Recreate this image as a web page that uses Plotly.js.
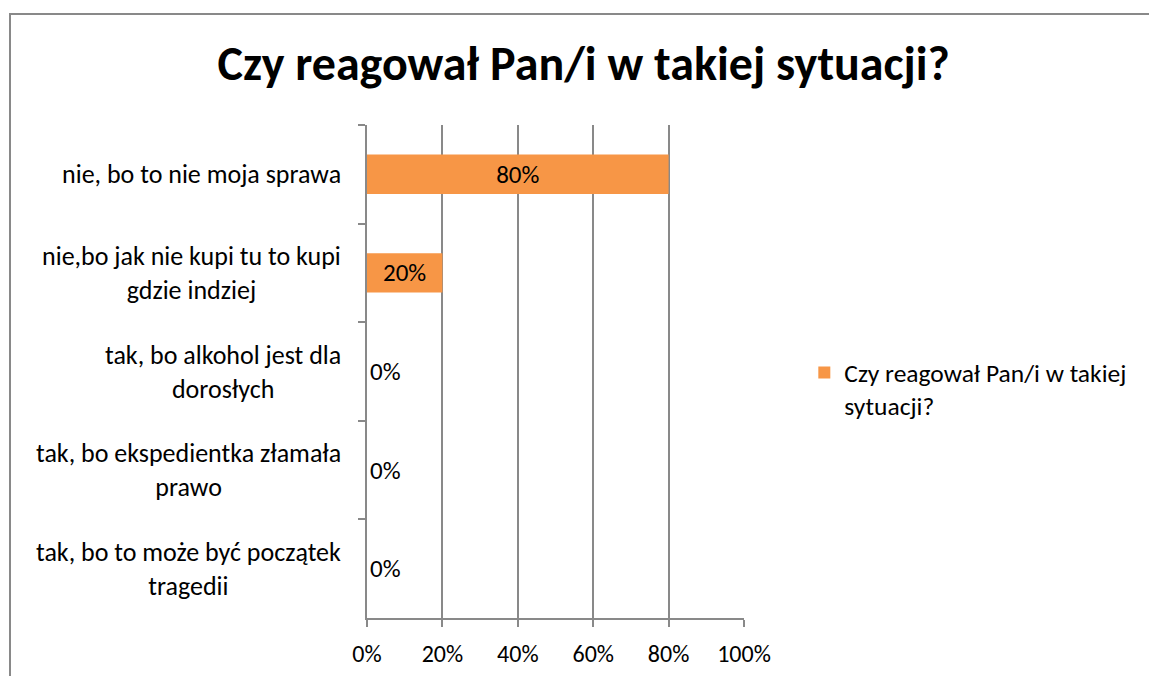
<!DOCTYPE html>
<html>
<head>
<meta charset="utf-8">
<script src="https://cdn.plot.ly/plotly-3.0.1.min.js"></script>
<style>
  html, body { margin: 0; padding: 0; background: #fff; }
  #wrap { position: relative; width: 1149px; height: 676px; overflow: hidden; }
  #chart { width: 1149px; height: 676px; }
  #frame { position: absolute; left: 9px; top: 13px; width: 1160px; height: 700px;
           border: 2px solid #898989; pointer-events: none; box-sizing: border-box; }
</style>
</head>
<body>
<div id="wrap">
  <div id="chart"></div>
  <div id="frame"></div>
</div>
<script>
const chartTitle = "Czy reagował Pan/i w takiej sytuacji?";
const seriesName = "Czy reagował Pan/i w takiej<br>sytuacji?";
const categories = [
  "nie, bo to nie moja sprawa",
  "nie,bo jak nie kupi tu to kupi<br>gdzie indziej",
  "tak, bo alkohol jest dla<br>dorosłych",
  "tak, bo ekspedientka złamała<br>prawo",
  "tak, bo to może być początek<br>tragedii"
];
const values = [0.80, 0.20, 0.00, 0.00, 0.00];
const xTickVals = [0, 0.2, 0.4, 0.6, 0.8, 1.0];
const xTickText = ["0%", "20%", "40%", "60%", "80%", "100%"];

const FONT = "Carlito, Calibri, Lato, sans-serif";
const ORANGE = "#F79646";
const GRID = "#898989";

const labels = values.map(v => Math.round(v * 100) + "%");
const positions = values.map(v => v > 0 ? "inside" : "outside");

const trace = {
  type: "bar",
  orientation: "h",
  x: values,
  y: categories,
  name: seriesName,
  marker: { color: ORANGE },
  text: labels,
  textposition: positions,
  insidetextanchor: "middle",
  textfont: { family: FONT, size: 25, color: "#000" },
  insidetextfont: { family: FONT, size: 25, color: "#000" },
  outsidetextfont: { family: FONT, size: 25, color: "#000" },
  constraintext: "none",
  cliponaxis: false,
  showlegend: true,
  hoverinfo: "none"
};

const annotations = categories.map(c => ({
  text: c,
  xref: "paper", yref: "y",
  x: 0, y: c,
  xshift: -24,
  xanchor: "right", yanchor: "middle",
  align: "center",
  showarrow: false,
  font: { family: FONT, size: 26, color: "#000" }
}));

const layout = {
  width: 1149, height: 676,
  paper_bgcolor: "#fff", plot_bgcolor: "#fff",
  margin: { l: 367, r: 405, t: 125, b: 58 },
  font: { family: FONT, size: 24, color: "#000" },
  title: {
    text: "<b>" + chartTitle + "</b>",
    font: { family: FONT, size: 48, color: "#000" },
    x: 0.508, xref: "container", xanchor: "center",
    y: 0.906, yref: "container", yanchor: "middle"
  },
  bargap: 0.6,
  xaxis: {
    range: [0, 1],
    tickvals: xTickVals,
    ticktext: xTickText,
    showgrid: true, gridcolor: GRID, gridwidth: 2,
    showline: true, linecolor: GRID, linewidth: 2,
    ticks: "outside", ticklen: 7, tickcolor: GRID, tickwidth: 2,
    ticklabelstandoff: 6,
    tickfont: { family: FONT, size: 24, color: "#000" },
    zeroline: false, fixedrange: true
  },
  yaxis: {
    type: "category",
    autorange: "reversed",
    showticklabels: false,
    showgrid: false,
    showline: true, linecolor: GRID, linewidth: 2,
    ticks: "outside", tickson: "boundaries", ticklen: 7, tickcolor: GRID, tickwidth: 2,
    zeroline: false, fixedrange: true
  },
  legend: {
    x: 1.16, xanchor: "left",
    y: 0.545, yanchor: "top",
    valign: "top",
    font: { family: FONT, size: 25.5, color: "#000" },
    bgcolor: "rgba(0,0,0,0)"
  },
  annotations: annotations,
  showlegend: true
};

Plotly.newPlot("chart", [trace], layout, { displayModeBar: false, staticPlot: true });
</script>
</body>
</html>
